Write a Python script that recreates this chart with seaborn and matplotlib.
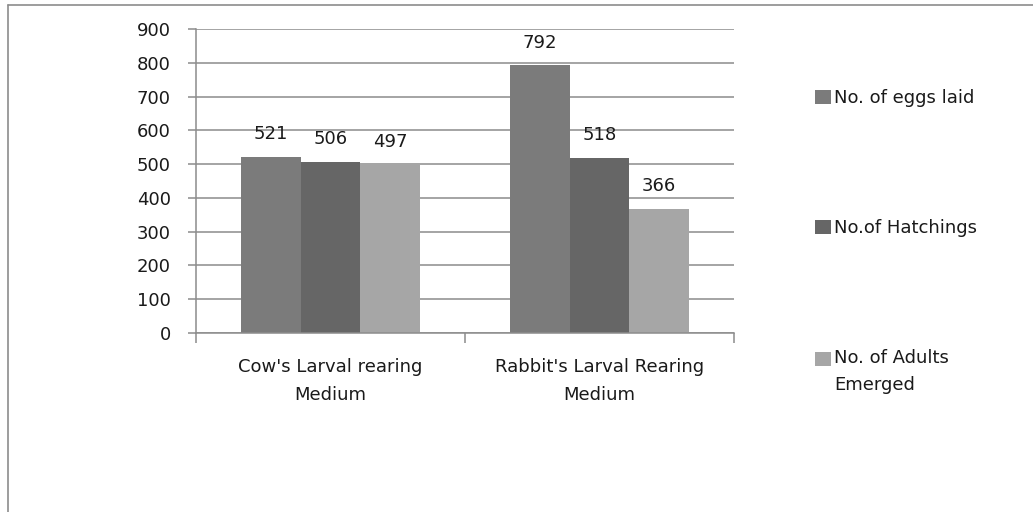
import matplotlib
matplotlib.use("Agg")
import matplotlib.pyplot as plt
from matplotlib.lines import Line2D
import seaborn as sns
import pandas as pd

categories = ["Cow's Larval rearing\nMedium", "Rabbit's Larval Rearing\nMedium"]
series = ["No. of eggs laid", "No.of Hatchings", "No. of Adults\nEmerged"]
eggs = [521, 792]
hatchings = [506, 518]
adults = [497, 366]
yticks = [0, 100, 200, 300, 400, 500, 600, 700, 800, 900]
colors = ["#7b7b7b", "#666666", "#a6a6a6"]

rows = []
for vals, s in zip([eggs, hatchings, adults], series):
    for c, v in zip(categories, vals):
        rows.append({"cat": c, "series": s, "value": v})
df = pd.DataFrame(rows)

sns.set_theme(style="white")
plt.rcParams["font.family"] = ["DejaVu Sans"]
FS = 13
txt = "#1a1a1a"
gridc = "#8c8c8c"

fig = plt.figure(figsize=(10.33, 5.12), dpi=100)
ax = fig.add_axes([196/1033, 1-333/512, (734-196)/1033, (333-29)/512])

sns.barplot(data=df, x="cat", y="value", hue="series", order=categories,
            hue_order=series, palette=colors, width=0.665, gap=0,
            saturation=1, ax=ax, legend=False, edgecolor="none", linewidth=0)

for cont in ax.containers:
    ax.bar_label(cont, padding=10, fontsize=FS, color=txt)

ax.set_ylim(0, 900)
ax.set_xlim(-0.5, 1.5)
ax.set_yticks(yticks)
ax.set_yticklabels([str(t) for t in yticks], fontsize=FS, color=txt)
ax.yaxis.grid(True, color=gridc, linewidth=1.1)
ax.set_axisbelow(True)
ax.set_xlabel("")
ax.set_ylabel("")
for s in ["top", "right"]:
    ax.spines[s].set_visible(False)
for s in ["left", "bottom"]:
    ax.spines[s].set_color(gridc)
    ax.spines[s].set_linewidth(1.1)

ax.tick_params(axis="y", which="major", length=6, width=1.1, color=gridc,
               pad=12, left=True)
ax.set_xticks([0, 1])
ax.set_xticklabels(categories, fontsize=FS, color=txt, linespacing=1.7)
ax.tick_params(axis="x", which="major", length=0, pad=18)
ax.set_xticks([-0.5, 0.5, 1.5], minor=True)
ax.tick_params(axis="x", which="minor", length=7, width=1.1, color=gridc,
               bottom=True)

handles = [plt.Rectangle((0, 0), 1, 1, facecolor=c, edgecolor="none") for c in colors]
leg = fig.legend(handles, series, loc="upper left",
                 bbox_to_anchor=(799/1033, 1-73/512), frameon=False,
                 fontsize=FS, labelspacing=6.2, handlelength=0.85,
                 handleheight=0.8, handletextpad=0.2, labelcolor=txt)
leg.texts[2].set_linespacing(1.6)
h = leg.legend_handles[2]
h.set_y(h.get_y() + FS * 0.72)

# outer chart frame (top and left edges visible)
fig.add_artist(Line2D([8/1033, 8/1033], [0, 1-5/512], transform=fig.transFigure,
                      color=gridc, linewidth=1.2))
fig.add_artist(Line2D([8/1033, 1], [1-5/512, 1-5/512], transform=fig.transFigure,
                      color=gridc, linewidth=1.2))

fig.savefig("out.png", dpi=100, facecolor="white")
